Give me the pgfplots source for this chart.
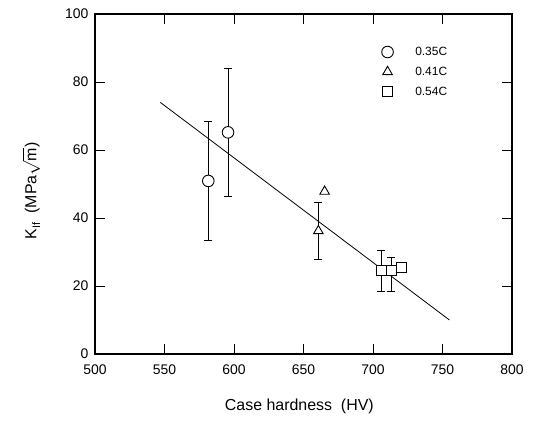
\documentclass[border=0pt]{standalone}
\usepackage{fontspec}
\setmainfont{Liberation Sans}
\usepackage{pgfplots}
\pgfplotsset{compat=1.18}

\begin{document}
\begin{tikzpicture}
% page size follows the reference: 539 x 426
\path[use as bounding box] (-95bp,-72bp) rectangle (444bp,354bp);
\begin{axis}[
    scale only axis,
    width=417bp,
    height=340bp,
    xmin=500, xmax=800,
    ymin=0, ymax=100,
    xtick={500,550,...,800},
    ytick={0,20,...,100},
    tick align=inside,
    major tick length=10bp,
    axis line style={line width=1.1pt},
    every tick/.style={black, line width=0.8pt},
    tick label style={font=\fontsize{14}{16}\selectfont},
    xticklabel style={yshift=-7bp},
    yticklabel style={xshift=-3bp},
    /pgf/number format/assume math mode=true,
    xlabel={Case hardness\ \ (HV)},
    ylabel={K\raisebox{-0.45ex}{\fontsize{11}{12}\selectfont If}\ \ (MPa$\sqrt{\mathrm{m}}$)},
    label style={font=\fontsize{16}{18}\selectfont},
    xlabel style={at={(axis description cs:0.49,-0.155)}, anchor=center},
    ylabel style={at={(axis description cs:-0.153,0.48)}, anchor=center},
    legend style={draw=none, fill=none, at={(axis description cs:0.68,0.915)},
        anchor=north west, font=\fontsize{12}{14}\selectfont,
        row sep=6bp, cells={anchor=west}},
    legend cell align=left,
]

% fitted line
\addplot[black, line width=0.8pt, forget plot] coordinates {(547,74) (755,10)};

% error bars
\addplot[black, line width=0.8pt, only marks, mark=*, mark size=0pt, forget plot,
    error bars/.cd, y dir=both, y explicit, error mark=-,
    error bar style={line width=0.8pt},
    error mark options={black, mark size=4bp, line width=0.8pt, rotate=90}]
    coordinates {
    (581.5,50.9) +- (0,17.4)
    (595.7,65.2) +- (0,18.7)
    (660.7,36.2) +- (0,8.5)
    (706.0,24.4) +- (0,6.0)
    (713.3,23.5) +- (0,5.0)
};

% 0.35C
\addplot[black, only marks, mark=*, mark size=5.8bp, line width=0.9pt,
    mark options={fill=white}] coordinates {
    (581.5,50.9) (595.7,65.2)
};
% 0.41C
\addplot[black, only marks, mark=triangle*, mark size=5.5bp, line width=0.9pt,
    mark options={fill=white}] coordinates {
    (660.7,36.2) (665.2,47.8)
};
% 0.54C
\addplot[black, only marks, mark=square*, mark size=5bp, line width=0.9pt,
    mark options={fill=white}] coordinates {
    (706.0,24.7) (713.3,24.7) (720.5,25.4)
};

\legend{\ \ \ \ \ \ 0.35C, \ \ \ \ \ \ 0.41C, \ \ \ \ \ \ 0.54C}
\end{axis}
\end{tikzpicture}
\end{document}
